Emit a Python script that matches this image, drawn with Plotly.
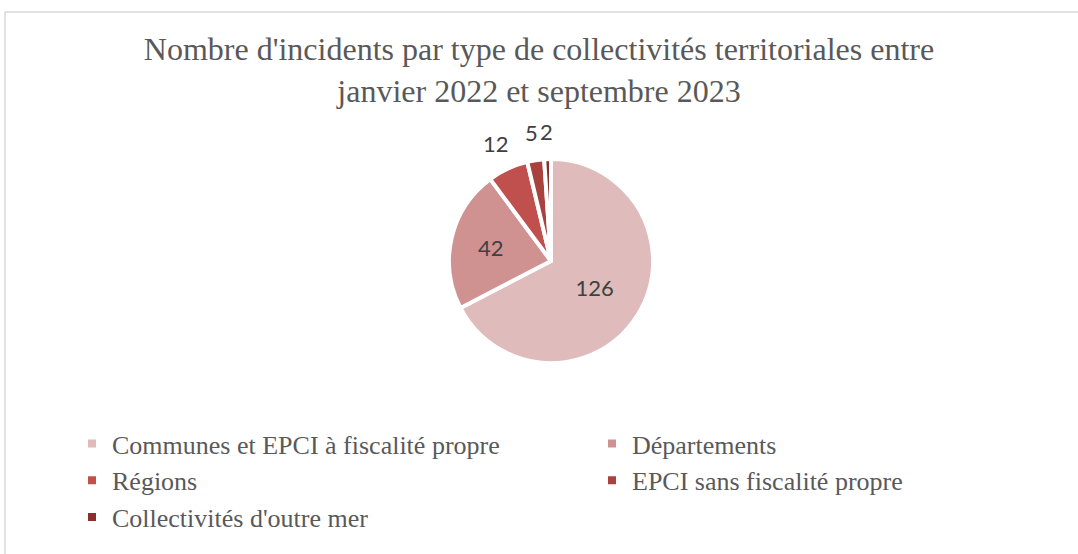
import math
import plotly.graph_objects as go

categories = ["Communes et EPCI à fiscalité propre", "Départements", "Régions",
              "EPCI sans fiscalité propre", "Collectivités d'outre mer"]
values = [126, 42, 12, 5, 2]
colors = ["#DFBBBB", "#D09291", "#C0504D", "#A8423F", "#8B2F2D"]
text_positions = ["inside", "inside", "none", "none", "none"]
outside_label = [False, False, True, True, True]

W, H = 1078, 554
cx, cy, r = 551, 261, 102   # pie centre and radius (pixels)
label_gap = 28              # distance of outside labels beyond the rim

fig = go.Figure(go.Pie(
    labels=categories,
    values=values,
    sort=False,
    direction="clockwise",
    rotation=0,
    marker=dict(colors=colors, line=dict(color="white", width=4)),
    textinfo="value",
    textposition=text_positions,
    insidetextorientation="horizontal",
    textfont=dict(family="Lato", size=22, color="#404040"),
    domain=dict(x=[(cx - r) / W, (cx + r) / W],
                y=[1 - (cy + r) / H, 1 - (cy - r) / H]),
    showlegend=True,
))

# outside value labels, placed at each slice's mid-angle
total = sum(values)
annotations = []
cum = 0
for v, out in zip(values, outside_label):
    mid = 2 * math.pi * (cum + v / 2) / total
    cum += v
    if not out:
        continue
    R = r + label_gap
    px = cx + R * math.sin(mid)
    py = cy - R * math.cos(mid)
    annotations.append(dict(x=px / W, y=1 - py / H, xref="paper", yref="paper",
                            text=str(v), showarrow=False,
                            xanchor="center", yanchor="middle",
                            font=dict(family="Lato", size=22, color="#404040")))

fig.update_layout(
    width=W, height=H,
    margin=dict(l=0, r=0, t=0, b=0, autoexpand=False),
    paper_bgcolor="white",
    title=dict(
        text="Nombre d'incidents par type de collectivités territoriales entre<br>janvier 2022 et septembre 2023",
        x=0.5, xanchor="center", y=1 - 60 / H, yanchor="top",
        font=dict(family="Liberation Serif", size=32, color="#595959"),
    ),
    legend=dict(
        orientation="h",
        x=72 / W, xanchor="left",
        y=1 - 420 / H, yanchor="top",
        entrywidth=475, entrywidthmode="pixels",
        traceorder="normal",
        bgcolor="rgba(0,0,0,0)",
        font=dict(family="Liberation Serif", size=26, color="#595959"),
    ),
    annotations=annotations,
    shapes=[dict(type="rect", xref="paper", yref="paper",
                 x0=5 / W, x1=1.05, y0=-0.05, y1=1 - 12 / H,
                 line=dict(color="#D9D9D9", width=1.5), fillcolor="rgba(0,0,0,0)")],
)

fig.write_html("out.html",
               config={"displayModeBar": False},
               post_script="document.body.style.margin='0';document.body.style.overflow='hidden';")
